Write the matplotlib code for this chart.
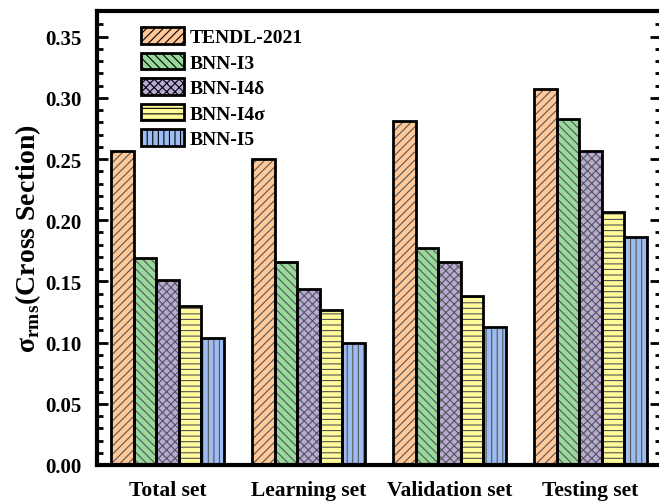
import matplotlib
matplotlib.use("Agg")
import matplotlib.pyplot as plt
import numpy as np
from matplotlib.patches import Patch

plt.rcParams['font.family'] = ['Liberation Serif', 'DejaVu Serif']
plt.rcParams['font.weight'] = 'bold'
plt.rcParams['mathtext.fontset'] = 'custom'
plt.rcParams['mathtext.rm'] = 'Liberation Serif:bold'
plt.rcParams['mathtext.bf'] = 'Liberation Serif:bold'
plt.rcParams['hatch.linewidth'] = 0.8

groups = ['Total set', 'Learning set', 'Validation set', 'Testing set']
models = ['TENDL-2021', 'BNN-I3', 'BNN-I4δ', 'BNN-I4σ', 'BNN-I5']

tendl = [0.257, 0.250, 0.281, 0.307]
bnn_i3 = [0.169, 0.166, 0.177, 0.283]
bnn_i4d = [0.151, 0.144, 0.166, 0.257]
bnn_i4s = [0.130, 0.127, 0.138, 0.207]
bnn_i5 = [0.104, 0.100, 0.113, 0.186]
series = [tendl, bnn_i3, bnn_i4d, bnn_i4s, bnn_i5]

colors = ['#FFC896', '#98D89A', '#B8AAD4', '#FFFA9A', '#9DBDF2']
hatches = ['////', '\\\\\\\\', 'xxxx', '---', '|||']

fig = plt.figure(figsize=(6.59, 5.02), dpi=100)
ax = fig.add_axes([97/659, 36/502, 564/659, 454/502])

x = np.arange(len(groups))
w = 0.16
for i, vals in enumerate(series):
    pos = x + (i - 2) * w
    # fill + hatch in a dark grey, then a black outline on top
    ax.bar(pos, vals, w, color=colors[i], hatch=hatches[i], edgecolor='#555555',
           linewidth=0, zorder=2)
    ax.bar(pos, vals, w, fill=False, edgecolor='black', linewidth=2, zorder=3)

handles = [Patch(facecolor=colors[i], hatch=hatches[i], edgecolor='black', linewidth=2)
           for i in range(len(models))]
leg = ax.legend(handles, models, loc='upper left', bbox_to_anchor=(0.058, 0.99),
                frameon=False, fontsize=14, handlelength=2.2, handleheight=0.95,
                labelspacing=0.33, handletextpad=0.3, borderaxespad=0.2)

ax.set_xlim(-0.5, 3.5)
ax.set_ylim(0, 0.371)
ax.set_xticks(x)
ax.set_xticklabels(groups, fontsize=15.5, fontweight='bold')
ax.tick_params(axis='x', length=0, pad=11)
ax.set_yticks(np.arange(0, 0.36, 0.05))
ax.set_yticks(np.arange(0, 0.37, 0.01), minor=True)
ax.yaxis.set_major_formatter(matplotlib.ticker.FormatStrFormatter('%.2f'))
ax.tick_params(axis='y', which='major', direction='in', length=8, width=2,
               labelsize=15, right=True, pad=11)
ax.tick_params(axis='y', which='minor', direction='in', length=4, width=2, right=True)
for lab in ax.get_yticklabels():
    lab.set_fontweight('bold')

for s in ax.spines.values():
    s.set_linewidth(3)

ax.set_ylabel('σ$_{\\mathregular{rms}}$(Cross Section)', fontsize=20, fontweight='bold',
              labelpad=2)

fig.savefig('out.png', dpi=100)
